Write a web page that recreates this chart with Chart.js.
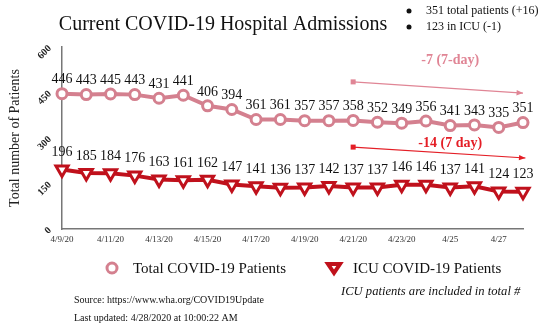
<!DOCTYPE html>
<html>
<head>
<meta charset="utf-8">
<script src="https://cdn.jsdelivr.net/npm/chart.js@4"></script>
<style>
  body { margin: 0; background: #fff; }
  #wrap { width: 552px; height: 328px; }
</style>
</head>
<body>
<div id="wrap"><canvas id="admissionsChart"></canvas></div>
<script>
const dates = ['4/9/20', '4/10/20', '4/11/20', '4/12/20', '4/13/20', '4/14/20', '4/15/20', '4/16/20', '4/17/20', '4/18/20',
  '4/19/20', '4/20/20', '4/21/20', '4/22/20', '4/23/20', '4/24/20', '4/25', '4/26', '4/27', '4/28'];
const totalPatients = [446, 443, 445, 443, 431, 441, 406, 394, 361, 361, 357, 357, 358, 352, 349, 356, 341, 343, 335, 351];
const icuPatients = [196, 185, 184, 176, 163, 161, 162, 147, 141, 136, 137, 142, 137, 137, 146, 146, 137, 141, 124, 123];
const yTicks = [0, 150, 300, 450, 600];

// 7-day trend arrows: [start index, start value, end index, end value]
const totalTrend = [12, 485, 19, 448];
const icuTrend = [12, 270, 19.1, 234];

const serif = '"Liberation Serif", "DejaVu Serif", serif';
const pink = '#d4808f';
const red = '#c0111c';

const overlay = {
  id: 'overlay',
  afterDatasetsDraw(chart) {
    const ctx = chart.ctx;
    ctx.save();
    ctx.font = '14px ' + serif;
    ctx.fillStyle = '#111';
    ctx.textAlign = 'center';
    ctx.textBaseline = 'middle';
    chart.getDatasetMeta(0).data.forEach((p, i) => ctx.fillText(totalPatients[i], p.x, p.y - 14));
    chart.getDatasetMeta(1).data.forEach((p, i) => ctx.fillText(icuPatients[i], p.x, p.y - 17));
    ctx.restore();
  },
  afterDraw(chart) {
    const ctx = chart.ctx;
    const x = chart.scales.x;
    const y = chart.scales.y;
    ctx.save();

    // title
    ctx.fillStyle = '#111';
    ctx.textAlign = 'center';
    ctx.textBaseline = 'middle';
    ctx.font = '20px ' + serif;
    ctx.fillText('Current COVID-19 Hospital Admissions', 223, 25);

    // summary bullets
    ctx.textAlign = 'left';
    ctx.font = '12px ' + serif;
    [['351 total patients (+16)', 11], ['123 in ICU (-1)', 27]].forEach(([t, ty]) => {
      ctx.beginPath();
      ctx.arc(409, ty, 2.5, 0, Math.PI * 2);
      ctx.fill();
      ctx.fillText(t, 426, ty);
    });

    // trend arrows
    function arrow(tr, color) {
      const x1 = x.getPixelForValue(tr[0]), y1 = y.getPixelForValue(tr[1]);
      const x2 = x.getPixelForValue(tr[2]), y2 = y.getPixelForValue(tr[3]);
      ctx.strokeStyle = color;
      ctx.fillStyle = color;
      ctx.lineWidth = 1.2;
      ctx.beginPath();
      ctx.moveTo(x1, y1);
      ctx.lineTo(x2, y2);
      ctx.stroke();
      ctx.fillRect(x1 - 2.5, y1 - 2.5, 5, 5);
      const a = Math.atan2(y2 - y1, x2 - x1);
      ctx.beginPath();
      ctx.moveTo(x2, y2);
      ctx.lineTo(x2 - 7 * Math.cos(a - 0.4), y2 - 7 * Math.sin(a - 0.4));
      ctx.lineTo(x2 - 7 * Math.cos(a + 0.4), y2 - 7 * Math.sin(a + 0.4));
      ctx.closePath();
      ctx.fill();
    }
    arrow(totalTrend, '#e08595');
    arrow(icuTrend, '#e41e26');

    ctx.textAlign = 'center';
    ctx.font = 'bold 14px ' + serif;
    ctx.fillStyle = '#e08595';
    ctx.fillText('-7 (7-day)', x.getPixelForValue(16), y.getPixelForValue(557));
    ctx.fillStyle = '#e41e26';
    ctx.fillText('-14 (7 day)', x.getPixelForValue(16), y.getPixelForValue(283));

    // legend
    ctx.lineWidth = 3;
    ctx.strokeStyle = pink;
    ctx.fillStyle = '#fff';
    ctx.beginPath();
    ctx.arc(112, 268, 5, 0, Math.PI * 2);
    ctx.fill();
    ctx.stroke();
    ctx.strokeStyle = red;
    ctx.lineWidth = 4;
    ctx.beginPath();
    ctx.moveTo(328, 264);
    ctx.lineTo(340, 264);
    ctx.lineTo(334, 273);
    ctx.closePath();
    ctx.fill();
    ctx.stroke();

    ctx.fillStyle = '#111';
    ctx.textAlign = 'left';
    ctx.font = '15px ' + serif;
    ctx.fillText('Total COVID-19 Patients', 133, 269);
    ctx.fillText('ICU COVID-19 Patients', 353, 269);

    ctx.font = 'italic 12.6px ' + serif;
    ctx.fillText('ICU patients are included in total #', 341, 292);
    ctx.font = '10px ' + serif;
    ctx.fillText('Source: https://www.wha.org/COVID19Update', 74, 300);
    ctx.fillText('Last updated: 4/28/2020 at 10:00:22 AM', 74, 318);
    ctx.restore();
  }
};

new Chart(document.getElementById('admissionsChart').getContext('2d'), {
  type: 'line',
  data: {
    labels: dates,
    datasets: [{
      label: 'Total COVID-19 Patients',
      data: totalPatients,
      borderColor: pink,
      backgroundColor: '#fff',
      borderWidth: 4,
      pointStyle: 'circle',
      pointRadius: 5,
      pointBorderWidth: 3,
      pointBorderColor: pink,
      pointBackgroundColor: '#fff'
    }, {
      label: 'ICU COVID-19 Patients',
      data: icuPatients,
      borderColor: red,
      backgroundColor: '#fff',
      borderWidth: 4,
      pointStyle: 'triangle',
      pointRotation: 180,
      pointRadius: 7,
      pointBorderWidth: 3,
      pointBorderColor: red,
      pointBackgroundColor: '#fff'
    }]
  },
  options: {
    responsive: true,
    maintainAspectRatio: false,
    animation: false,
    layout: { padding: { top: 47, right: 29, left: 0, bottom: 0 } },
    plugins: {
      legend: { display: false },
      title: { display: false },
      tooltip: { enabled: false }
    },
    scales: {
      x: {
        offset: false,
        grid: { display: false, drawTicks: false },
        border: { color: '#777', width: 1.5 },
        ticks: {
          autoSkip: false,
          maxRotation: 0,
          padding: 5,
          color: '#333',
          font: { family: serif, size: 9 },
          callback: (v, i) => (i % 2 === 0 ? dates[i] : '')
        },
        afterFit: (s) => { s.height = 99; }
      },
      y: {
        min: 0,
        max: 600,
        grid: { display: false, drawTicks: false },
        border: { color: '#777', width: 1.5 },
        afterBuildTicks: (s) => { s.ticks = yTicks.map(v => ({ value: v })); },
        ticks: {
          minRotation: 45,
          maxRotation: 45,
          padding: 12,
          color: '#222',
          font: { family: serif, size: 10, weight: 'bold' }
        },
        title: {
          display: true,
          text: 'Total number of Patients',
          color: '#222',
          font: { family: serif, size: 14 },
          padding: { top: 7, bottom: 0 }
        },
        afterFit: (s) => { s.width = 62; }
      }
    }
  },
  plugins: [overlay]
});
</script>
</body>
</html>
